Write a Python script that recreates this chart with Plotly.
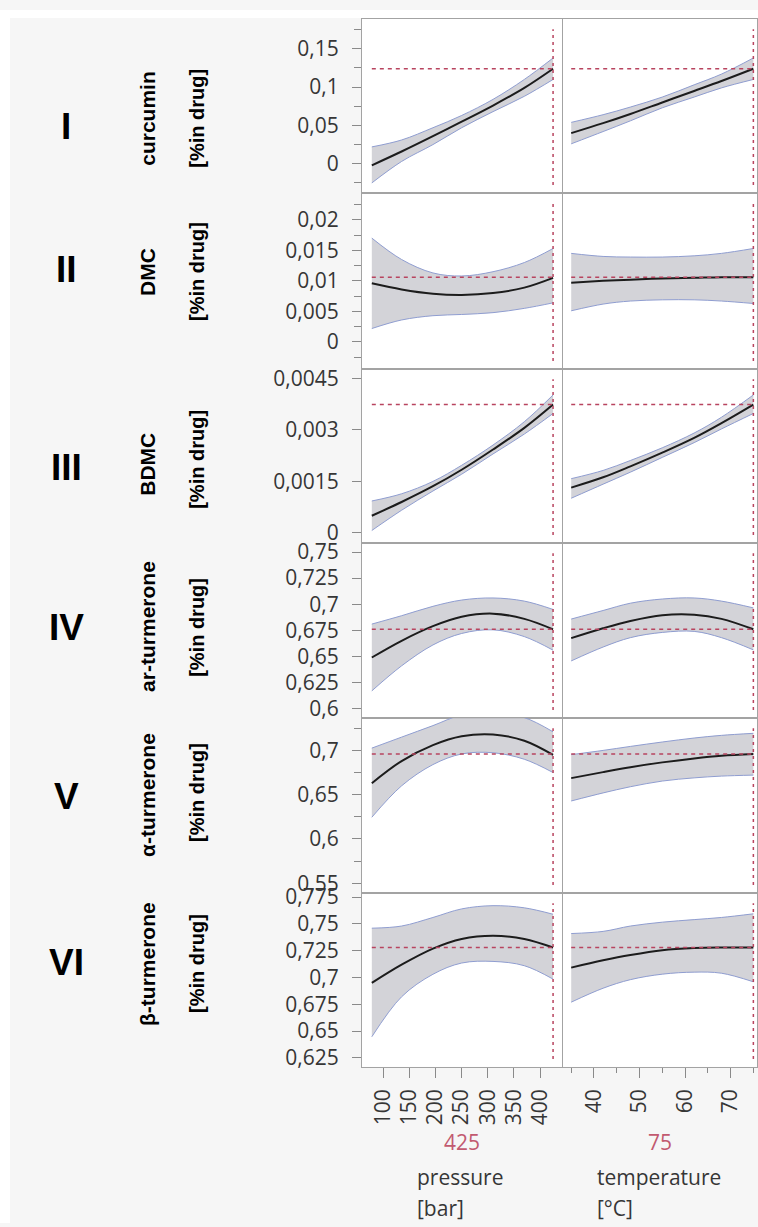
import plotly.graph_objects as go

W, H = 758, 1227

# ---------------- data ----------------
pressure = [78, 135, 195, 250, 310, 370, 425]
temperature = [35, 42, 48, 55, 62, 68, 75]

responses = ["curcumin", "DMC", "BDMC", "ar-turmerone", "α-turmerone", "β-turmerone"]
numerals = ["I", "II", "III", "IV", "V", "VI"]

# prediction curves vs pressure (temperature fixed at 75)
pred_p = [
    [-0.002, 0.016, 0.036, 0.055, 0.076, 0.099, 0.124],
    [0.0096, 0.0086, 0.0079, 0.0077, 0.0080, 0.0089, 0.0105],
    [0.00050, 0.00090, 0.00136, 0.00184, 0.00243, 0.00306, 0.00374],
    [0.649, 0.665, 0.679, 0.688, 0.691, 0.686, 0.676],
    [0.663, 0.688, 0.706, 0.716, 0.718, 0.711, 0.695],
    [0.695, 0.712, 0.727, 0.736, 0.739, 0.736, 0.728],
]
upper_p = [
    [0.022, 0.031, 0.047, 0.063, 0.084, 0.110, 0.138],
    [0.0170, 0.0135, 0.0113, 0.0108, 0.0115, 0.0130, 0.0153],
    [0.00093, 0.00114, 0.00150, 0.00197, 0.00256, 0.00324, 0.00402],
    [0.681, 0.689, 0.698, 0.704, 0.706, 0.703, 0.695],
    [0.7026, 0.715, 0.728, 0.740, 0.742, 0.737, 0.721],
    [0.746, 0.748, 0.756, 0.764, 0.767, 0.765, 0.759],
]
lower_p = [
    [-0.025, 0.003, 0.025, 0.047, 0.068, 0.088, 0.110],
    [0.0022, 0.0036, 0.0043, 0.0045, 0.0048, 0.0055, 0.0064],
    [0.00007, 0.00066, 0.00122, 0.00171, 0.00230, 0.00288, 0.00348],
    [0.617, 0.641, 0.661, 0.672, 0.6755, 0.669, 0.656],
    [0.6245, 0.660, 0.684, 0.696, 0.6974, 0.690, 0.675],
    [0.6447, 0.682, 0.703, 0.7135, 0.715, 0.711, 0.6985],
]

# prediction curves vs temperature (pressure fixed at 425)
pred_t = [
    [0.040, 0.053, 0.065, 0.080, 0.095, 0.108, 0.124],
    [0.0097, 0.0100, 0.0102, 0.0104, 0.0105, 0.0106, 0.0106],
    [0.00132, 0.00162, 0.00194, 0.00234, 0.00277, 0.00320, 0.00374],
    [0.6675, 0.677, 0.684, 0.6895, 0.690, 0.686, 0.676],
    [0.6687, 0.6755, 0.681, 0.6865, 0.691, 0.694, 0.696],
    [0.7092, 0.716, 0.721, 0.7255, 0.7275, 0.728, 0.728],
]
upper_t = [
    [0.054, 0.064, 0.074, 0.087, 0.103, 0.117, 0.138],
    [0.0145, 0.0140, 0.0139, 0.0139, 0.0141, 0.0145, 0.0153],
    [0.00158, 0.00182, 0.00211, 0.00248, 0.00291, 0.00337, 0.00402],
    [0.6858, 0.694, 0.701, 0.705, 0.706, 0.703, 0.6965],
    [0.6952, 0.700, 0.7045, 0.7095, 0.714, 0.717, 0.7193],
    [0.741, 0.743, 0.748, 0.7516, 0.754, 0.756, 0.7594],
]
lower_t = [
    [0.026, 0.042, 0.056, 0.073, 0.087, 0.099, 0.110],
    [0.0051, 0.0062, 0.0067, 0.0069, 0.0069, 0.0067, 0.0063],
    [0.00101, 0.00142, 0.00177, 0.00220, 0.00263, 0.00303, 0.00348],
    [0.6457, 0.659, 0.668, 0.673, 0.674, 0.668, 0.6563],
    [0.6429, 0.652, 0.659, 0.6654, 0.669, 0.671, 0.6721],
    [0.677, 0.690, 0.698, 0.7031, 0.705, 0.704, 0.696],
]

# current predicted value at pressure=425, temperature=75
current_values = [0.124, 0.0106, 0.00374, 0.676, 0.696, 0.728]
current_pressure = 425
current_temperature = 75

y_ranges = [
    [-0.038, 0.189],
    [-0.0044, 0.0244],
    [-0.00029, 0.00478],
    [0.5912, 0.7588],
    [0.5392, 0.7368],
    [0.6167, 0.779],
]
y_tickvals = [
    [0, 0.05, 0.1, 0.15],
    [0, 0.005, 0.01, 0.015, 0.02],
    [0, 0.0015, 0.003, 0.0045],
    [0.6, 0.625, 0.65, 0.675, 0.7, 0.725, 0.75],
    [0.55, 0.6, 0.65, 0.7],
    [0.625, 0.65, 0.675, 0.7, 0.725, 0.75, 0.775],
]
y_ticktext = [
    ["0", "0,05", "0,1", "0,15"],
    ["0", "0,005", "0,01", "0,015", "0,02"],
    ["0", "0,0015", "0,003", "0,0045"],
    ["0,6", "0,625", "0,65", "0,675", "0,7", "0,725", "0,75"],
    ["0,55", "0,6", "0,65", "0,7"],
    ["0,625", "0,65", "0,675", "0,7", "0,725", "0,75", "0,775"],
]
y_minor = [
    [-0.025, 0.025, 0.075, 0.125, 0.175],
    [-0.0025, 0.0025, 0.0075, 0.0125, 0.0175, 0.0225],
    [],
    [],
    [0.575, 0.625, 0.675, 0.725],
    [],
]

p_tickvals = [100, 150, 200, 250, 300, 350, 400]
t_tickvals = [40, 50, 60, 70]
t_minor = [35, 45, 55, 65, 75]
p_range = [59.2, 442.1]
t_range = [33.2, 75.8]

# ---------------- layout geometry (pixels) ----------------
col_px = [(362, 562), (563, 757)]
row_px = [9, 185, 363, 539, 716, 893, 1069]

def px_x(x):
    return x / W

def px_y(y):
    return 1 - y / H

RED = "#b8445f"
BAND_FILL = "rgba(200,200,206,0.8)"
BAND_LINE = "#8f9dd0"
FRAME = "#a3a3a3"
TICKFONT = dict(family="Open Sans", size=21, color="#363636")

fig = go.Figure()
layout = dict(
    width=W, height=H,
    margin=dict(l=0, r=0, t=0, b=0),
    paper_bgcolor="#f6f6f6",
    plot_bgcolor="white",
    showlegend=False,
)
shapes = []
annotations = []

for r in range(6):
    for c in range(2):
        k = r * 2 + c + 1
        xs = pressure if c == 0 else temperature
        pred = pred_p[r] if c == 0 else pred_t[r]
        up = upper_p[r] if c == 0 else upper_t[r]
        lo = lower_p[r] if c == 0 else lower_t[r]
        xa = "x" if k == 1 else f"x{k}"
        ya = "y" if k == 1 else f"y{k}"
        fig.add_trace(go.Scatter(x=xs, y=lo, mode="lines", xaxis=xa, yaxis=ya,
                                 line=dict(color=BAND_LINE, width=1, shape="spline"),
                                 hoverinfo="skip"))
        fig.add_trace(go.Scatter(x=xs, y=up, mode="lines", xaxis=xa, yaxis=ya,
                                 fill="tonexty", fillcolor=BAND_FILL,
                                 line=dict(color=BAND_LINE, width=1, shape="spline"),
                                 hoverinfo="skip"))
        fig.add_trace(go.Scatter(x=xs, y=pred, mode="lines", xaxis=xa, yaxis=ya,
                                 line=dict(color="#1c1c1c", width=2, shape="spline")))

        cur_x = current_pressure if c == 0 else current_temperature
        shapes.append(dict(type="line", xref=xa, yref=ya, x0=xs[0], x1=cur_x,
                           y0=current_values[r], y1=current_values[r],
                           line=dict(color=RED, width=1.5, dash="4px,4px"), layer="above"))
        shapes.append(dict(type="line", xref=xa, yref=f"{ya} domain", x0=cur_x, x1=cur_x,
                           y0=0.045, y1=0.94,
                           line=dict(color=RED, width=1.5, dash="3px,4px"), layer="above"))

        x0, x1 = col_px[c]
        xaxis = dict(
            domain=[px_x(x0), px_x(x1)], anchor=ya,
            range=p_range if c == 0 else t_range,
            showgrid=False, zeroline=False,
            showline=True, mirror=True, linecolor=FRAME, linewidth=1,
            fixedrange=True,
        )
        if r == 5:
            xaxis.update(
                tickmode="array",
                tickvals=p_tickvals if c == 0 else t_tickvals,
                ticktext=[str(v) for v in (p_tickvals if c == 0 else t_tickvals)],
                ticks="outside", ticklen=10, tickcolor="#8a8a8a", tickwidth=1,
                tickangle=-90, tickfont=TICKFONT, ticklabelstandoff=3,
            )
            if c == 1:
                xaxis["minor"] = dict(tickmode="array", tickvals=t_minor, ticks="outside",
                                      ticklen=5, tickcolor="#8a8a8a", showgrid=False)
        else:
            xaxis.update(showticklabels=False, ticks="")
        layout["xaxis" if k == 1 else f"xaxis{k}"] = xaxis

        yaxis = dict(
            domain=[px_y(row_px[r + 1]), px_y(row_px[r])], anchor=xa,
            range=y_ranges[r],
            showgrid=False, zeroline=False,
            showline=True, mirror=True, linecolor=FRAME, linewidth=1,
            fixedrange=True,
        )
        if c == 0:
            yaxis.update(
                tickmode="array", tickvals=y_tickvals[r], ticktext=y_ticktext[r],
                ticks="outside", ticklen=9, tickcolor="#8a8a8a", tickwidth=1,
                tickfont=TICKFONT, ticklabelstandoff=9,
            )
            if y_minor[r]:
                yaxis["minor"] = dict(tickmode="array", tickvals=y_minor[r], ticks="outside",
                                      ticklen=7, tickcolor="#8a8a8a", showgrid=False)
        else:
            yaxis.update(showticklabels=False, ticks="")
        layout["yaxis" if k == 1 else f"yaxis{k}"] = yaxis

# white outer strips (left and top) like the source image
shapes.append(dict(type="rect", xref="paper", yref="paper", x0=0, x1=px_x(10), y0=0, y1=1,
                   fillcolor="white", line=dict(width=0), layer="above"))
shapes.append(dict(type="rect", xref="paper", yref="paper", x0=0, x1=1, y0=px_y(8), y1=1,
                   fillcolor="white", line=dict(width=0), layer="above"))

# left labels
numeral_y = [118, 262, 463, 625, 796, 963]
name_y = [110, 265, 460, 624, 794, 965]
unit_y = [110, 265, 455, 625, 792, 965]
for r in range(6):
    annotations.append(dict(text=f"<b>{numerals[r]}</b>", x=px_x(66), y=px_y(numeral_y[r]),
                            xref="paper", yref="paper", showarrow=False,
                            xanchor="center", yanchor="middle",
                            font=dict(family="Liberation Sans", size=37, color="black")))
    annotations.append(dict(text=f"<b>{responses[r]}</b>", x=px_x(148), y=px_y(name_y[r]),
                            xref="paper", yref="paper", showarrow=False, textangle=-90,
                            xanchor="center", yanchor="middle",
                            font=dict(family="Liberation Sans", size=21, color="black")))
    annotations.append(dict(text="<b>[%in drug]</b>", x=px_x(197), y=px_y(unit_y[r]),
                            xref="paper", yref="paper", showarrow=False, textangle=-90,
                            xanchor="center", yanchor="middle",
                            font=dict(family="Liberation Sans", size=20, color="black")))

# bottom labels
BOTFONT = dict(family="Open Sans", size=21, color="#363636")
annotations += [
    dict(text=str(current_pressure), x=px_x(462), y=px_y(1145), xref="paper", yref="paper",
         showarrow=False, xanchor="center", yanchor="middle",
         font=dict(family="Open Sans", size=21, color="#c25a70")),
    dict(text=str(current_temperature), x=px_x(660), y=px_y(1145), xref="paper", yref="paper",
         showarrow=False, xanchor="center", yanchor="middle",
         font=dict(family="Open Sans", size=21, color="#c25a70")),
    dict(text="pressure", x=px_x(415), y=px_y(1180), xref="paper", yref="paper",
         showarrow=False, xanchor="left", yanchor="middle", font=BOTFONT),
    dict(text="[bar]", x=px_x(415), y=px_y(1212), xref="paper", yref="paper",
         showarrow=False, xanchor="left", yanchor="middle", font=BOTFONT),
    dict(text="temperature", x=px_x(595), y=px_y(1180), xref="paper", yref="paper",
         showarrow=False, xanchor="left", yanchor="middle", font=BOTFONT),
    dict(text="[°C]", x=px_x(595), y=px_y(1212), xref="paper", yref="paper",
         showarrow=False, xanchor="left", yanchor="middle", font=BOTFONT),
]

layout["shapes"] = shapes
layout["annotations"] = annotations
fig.update_layout(**layout)
fig.write_html("out.html")
